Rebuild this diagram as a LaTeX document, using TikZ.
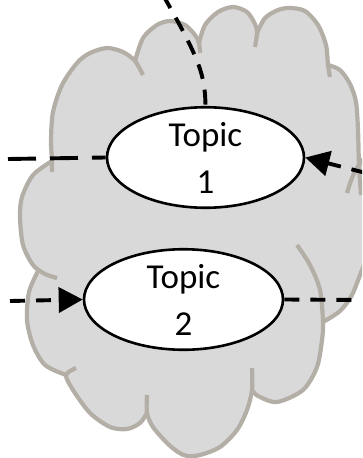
\documentclass[tikz,border=0pt]{standalone}
\usepackage{fontspec}
\setmainfont{Carlito}
\usetikzlibrary{arrows.meta,shapes.geometric}
\definecolor{cloudfill}{HTML}{D9D9D9}
\definecolor{cloudedge}{HTML}{B3AFA6}
\begin{document}
\begin{tikzpicture}[x=1pt,y=-1pt,
  topic/.style={ellipse, draw=black, line width=2.6pt, fill=white,
    minimum width=197pt, minimum height=91pt, inner sep=0pt, align=center,
    font=\fontsize{35}{47}\selectfont},
  link/.style={line width=3.9pt, dash pattern=on 15pt off 11pt},
  tip/.style={-{Triangle[length=24pt,width=25pt]}},
  edge/.style={draw=cloudedge, line width=4.2pt, line join=round}
]
\useasboundingbox (0,0) rectangle (362,458);
\begin{scope}
\clip (0,0) rectangle (362,458);
% cloud fill
\fill[cloudfill]
  plot[smooth] coordinates {(52,161) (51,140) (53,112) (62,85) (77,63) (90,53) (107,48) (123,52) (135,61)}
  -- plot[smooth] coordinates {(135,61) (143,38) (157,25) (170,21) (185,25) (195,35) (199,43)}
  -- plot[smooth] coordinates {(199,43) (205,25) (218,12) (233,7) (247,12) (255,24) (257,33)}
  -- plot[smooth] coordinates {(257,33) (265,18) (278,10) (290,8) (305,11) (318,25) (326,45) (328,65)}
  -- plot[smooth] coordinates {(328,65) (340,70) (350,84) (356,102) (358,130) (359,165)}
  -- plot[smooth] coordinates {(359,165) (372,152) (395,160) (405,200) (395,235) (378,248)}
  -- plot[smooth] coordinates {(378,248) (368,258) (362,270) (352,295) (340,311) (323,322)}
  -- plot[smooth] coordinates {(323,322) (322,340) (317,367) (303,390) (277,402) (258,396) (252,390)}
  -- plot[smooth] coordinates {(252,390) (247,410) (237,430) (220,447) (200,455) (187,456) (178,452) (167,443) (153,427) (147,413)}
  -- plot[smooth] coordinates {(147,413) (140,423) (127,429) (110,427) (90,413) (73,390) (66,375)}
  -- plot[smooth] coordinates {(66,375) (45,365) (33,345) (27,320) (29,292) (38,271)}
  -- plot[smooth] coordinates {(38,271) (33,265) (23,245) (20,217) (22,197) (33,175) (52,161)}
  -- cycle;
% cloud outline with inner arcs
\draw[edge] plot[smooth] coordinates {(52,172) (52,161) (51,140) (53,112) (62,85) (77,63) (90,53) (107,48) (123,52) (135,61) (143,75)};
\draw[edge] plot[smooth] coordinates {(135,61) (143,38) (157,25) (170,21) (185,25) (195,35) (199,43) (200,53)};
\draw[edge] plot[smooth] coordinates {(199,43) (205,25) (218,12) (233,7) (247,12) (255,24) (257,33) (255,47)};
\draw[edge] plot[smooth] coordinates {(257,33) (265,18) (278,10) (290,8) (305,11) (318,25) (326,45) (328,65) (330,77)};
\draw[edge] plot[smooth] coordinates {(328,65) (340,70) (350,84) (356,102) (358,130) (359,165) (361,195)};
\draw[edge] plot[smooth] coordinates {(347,193) (352,178) (359,165) (372,152) (395,160) (405,200) (395,235) (378,248)};
\draw[edge] plot[smooth] coordinates {(378,248) (368,258) (362,270) (352,295) (340,311) (323,322)};
\draw[edge] plot[smooth] coordinates {(297,245) (310,265) (320,290) (323,322) (322,340) (317,367) (303,390) (277,402) (258,396) (252,390)};
\draw[edge] plot[smooth] coordinates {(252,368) (252,390) (247,410) (237,430) (220,447) (200,455) (187,456) (178,452) (167,443) (153,427) (147,413) (147,395)};
\draw[edge] plot[smooth] coordinates {(147,413) (140,423) (127,429) (110,427) (90,413) (73,390) (66,375) (76,368)};
\draw[edge] plot[smooth] coordinates {(66,375) (45,365) (33,345) (27,320) (29,292) (38,271)};
\draw[edge] plot[smooth] coordinates {(57,278) (45,274) (33,265) (23,245) (20,217) (22,197) (33,175) (52,161)};
\end{scope}
% topics
\node[topic] (t1) at (205.5,157.5) {Topic\\1};
\node[topic, minimum width=199pt, minimum height=93pt] (t2) at (183.5,299.5) {Topic\\2};
% connectors
\coordinate (a0) at (163,-5);
\coordinate (b0) at (8,159);
\coordinate (c0) at (366,173);
\coordinate (d0) at (10,301);
\coordinate (e0) at (366,300);
\begin{scope}
\clip (0,0) rectangle (362,458);
\draw[link] (a0) .. controls (200,60) and (205,75) .. (t1.north);
\draw[link, dash pattern=on 28pt off 14pt] (b0) -- (t1.west);
\draw[link, tip] (c0) -- (t1.east);
\draw[link, tip] (d0) -- (t2.west);
\draw[link] (t2.east) -- (e0);
\end{scope}
\end{tikzpicture}
\end{document}
